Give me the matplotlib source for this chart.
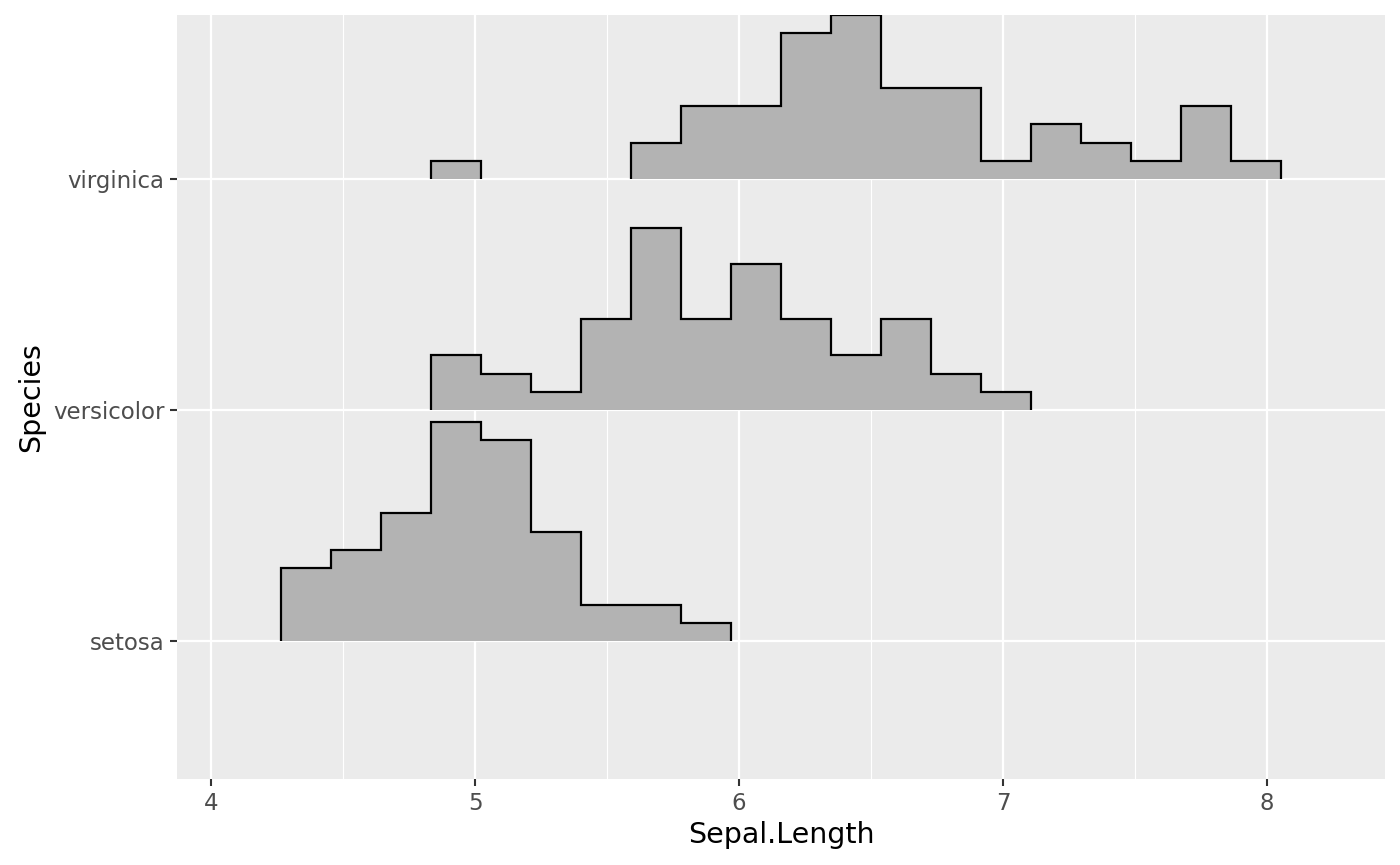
import numpy as np
import matplotlib
matplotlib.use("Agg")
import matplotlib.pyplot as plt

# bin edges (20 bins)
edges = [4.265, 4.455, 4.644, 4.833, 5.023, 5.212, 5.402, 5.591, 5.780, 5.970, 6.159,
         6.348, 6.538, 6.727, 6.917, 7.106, 7.295, 7.485, 7.674, 7.864, 8.053]
species = ["setosa", "versicolor", "virginica"]
setosa = [4, 5, 7, 12, 11, 6, 2, 2, 1, 0, 0, 0, 0, 0, 0, 0, 0, 0, 0, 0]
versicolor = [0, 0, 0, 3, 2, 1, 5, 10, 5, 8, 5, 3, 5, 2, 1, 0, 0, 0, 0, 0]
virginica = [0, 0, 0, 1, 0, 0, 0, 2, 4, 4, 8, 9, 5, 5, 1, 3, 2, 1, 4, 1]
counts = [setosa, versicolor, virginica]

scale = 0.948 / 12  # tallest bin fills ~95% of the row spacing

fig = plt.figure(figsize=(14, 8.65), dpi=100)
ax = fig.add_axes([0.1264, 0.0994, 0.8629, 0.8832])
ax.set_facecolor("#EBEBEB")
for s in ax.spines.values():
    s.set_visible(False)

ax.set_xlim(3.871, 8.447)
ax.set_ylim(-0.597, 2.71)
ax.set_xticks([4, 5, 6, 7, 8])
ax.set_xticks([4.5, 5.5, 6.5, 7.5], minor=True)
ax.set_yticks([0, 1, 2])
ax.set_yticklabels(species)
ax.grid(which="major", color="white", lw=1.6)
ax.grid(which="minor", axis="x", color="white", lw=0.8)
ax.set_axisbelow(True)
ax.tick_params(which="major", length=5, width=1.5, color="#333333",
               labelcolor="#4D4D4D", labelsize=16.5, pad=4)
ax.tick_params(which="minor", length=0)

e = np.array(edges)
for i, c in enumerate(counts):
    c = np.array(c, dtype=float)
    nz = c > 0
    # split into runs of non-empty bins
    j = 0
    while j < len(c):
        if not nz[j]:
            j += 1
            continue
        k = j
        while k < len(c) and nz[k]:
            k += 1
        vals = i + c[j:k] * scale
        ax.stairs(vals, e[j:k + 1], baseline=i, fill=True, color="#B3B3B3", lw=0, zorder=2)
        ax.stairs(vals, e[j:k + 1], baseline=i, fill=False, color="black", lw=1.6, zorder=3)
        j = k

ax.set_xlabel("Sepal.Length", fontsize=20.5, labelpad=5)
ax.set_ylabel("Species", fontsize=20.5, labelpad=6)

fig.savefig("out.png", dpi=100)
